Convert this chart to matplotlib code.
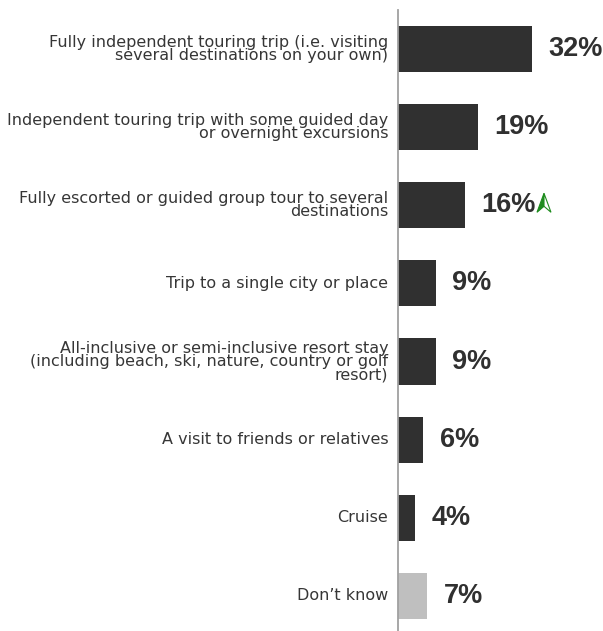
import matplotlib
matplotlib.use("Agg")
import matplotlib.pyplot as plt
from matplotlib.patches import Polygon

plt.rcParams['font.family'] = ['Liberation Sans', 'DejaVu Sans']

# Trip types and share of respondents (%)
categories = [
    "Fully independent touring trip (i.e. visiting\nseveral destinations on your own)",
    "Independent touring trip with some guided day\nor overnight excursions",
    "Fully escorted or guided group tour to several\ndestinations",
    "Trip to a single city or place",
    "All-inclusive or semi-inclusive resort stay\n(including beach, ski, nature, country or golf\nresort)",
    "A visit to friends or relatives",
    "Cruise",
    "Don\u2019t know",
]
values = [32, 19, 16, 9, 9, 6, 4, 7]
colors = ["#303030"] * 7 + ["#bfbfbf"]
# rows flagged with an upward trend marker
trend_up = [2]


def main():
    fig = plt.figure(figsize=(6.03, 6.31), dpi=100)
    ax = fig.add_axes([398 / 603, 0, 205 / 603, 621 / 631])

    ypos = list(range(len(values)))
    ax.barh(ypos, values, height=0.59, color=colors, zorder=2)
    ax.set_xlim(0, 205 / 4.19)
    ax.set_ylim(7.45, -0.5)

    for sp in ["top", "right", "bottom"]:
        ax.spines[sp].set_visible(False)
    ax.spines["left"].set_color("#a0a0a0")
    ax.spines["left"].set_linewidth(1.3)
    ax.set_xticks([])
    ax.set_yticks([])

    for y, v, label in zip(ypos, values, categories):
        ax.annotate(label, (0, y), xytext=(-7, 0), textcoords="offset points",
                    ha="right", va="center", fontsize=11.5, color="#363636",
                    linespacing=0.84, family="DejaVu Sans")
        ax.annotate(f"{v}%", (v, y), xytext=(12, 0), textcoords="offset points",
                    ha="left", va="center", fontsize=19.5, fontweight="bold",
                    color="#303030")

    # green arrow next to flagged values
    px = 205 / (205 / 4.19)  # pixels per unit on x
    py = 78.1  # pixels per row
    for i in trend_up:
        x0 = values[i] + (537 - 398 - values[i] * px) / px
        top = (x0 + 7 / px, i - 12 / py)
        left = (x0, i + 7 / py)
        right = (x0 + 14 / px, i + 7 / py)
        notch = (x0 + 7 / px, i + 1 / py)
        ax.add_patch(Polygon([top, left, notch], closed=True, facecolor="#1e8c1e",
                             edgecolor="#1e8c1e", lw=0.8, clip_on=False))
        ax.add_patch(Polygon([top, notch, right], closed=True, facecolor="white",
                             edgecolor="#1e8c1e", lw=0.8, clip_on=False))

    fig.savefig("out.png", dpi=100)


if __name__ == '__main__':
    main()
